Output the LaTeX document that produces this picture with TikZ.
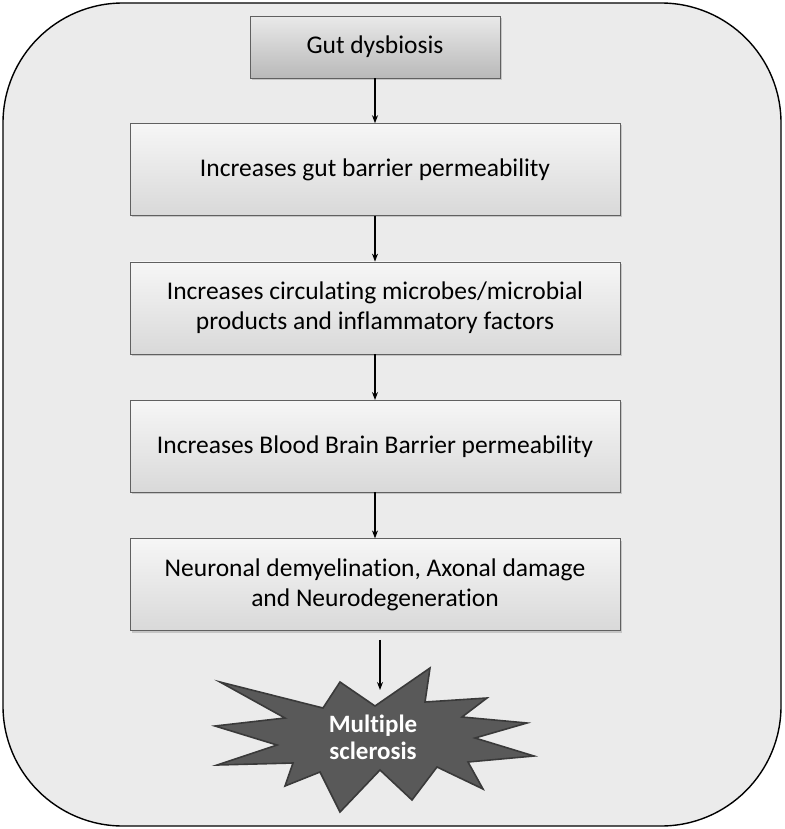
\documentclass[tikz,border=0pt]{standalone}
\usepackage{fontspec}
\setmainfont{Carlito}[Ligatures={NoCommon}]
\usetikzlibrary{arrows.meta, positioning, shadows}

\definecolor{panelgray}{HTML}{EBEBEB}
\definecolor{stargray}{HTML}{595959}
\definecolor{starline}{HTML}{3A3A3A}

\begin{document}
\begin{tikzpicture}[x=1pt, y=-1pt, >={Stealth[length=8pt, width=6pt]},
  stepbox/.style={draw=gray!75!black, top color=gray!7, bottom color=gray!30,
    minimum width=490pt, minimum height=92pt, align=center,
    font=\fontsize{25.5}{30}\selectfont,
    drop shadow={shadow xshift=2pt, shadow yshift=-2pt, opacity=0.35}},
  topbox/.style={stepbox, top color=gray!17, bottom color=gray!55,
    minimum width=250pt, minimum height=62pt},
  flow/.style={->, line width=1.1pt},
  node distance=46pt]
  \useasboundingbox (0,0) rectangle (784,829);

  % background panel
  \draw[line width=1.4pt, fill=panelgray, rounded corners=120pt] (3,3) rectangle (781,826);

  % the chain of boxes
  \node[topbox] (dys) at (375,47) {Gut dysbiosis};
  \node[stepbox, below=45pt of dys] (gut) {Increases gut barrier permeability};
  \node[stepbox, below=of gut] (circ) {Increases circulating microbes/microbial\\products and inflammatory factors};
  \node[stepbox, below=of circ] (bbb) {Increases Blood Brain Barrier permeability};
  \node[stepbox, below=of bbb] (demy) {Neuronal demyelination, Axonal damage\\and Neurodegeneration};

  \draw[flow] (dys) -- (gut);
  \draw[flow] (gut) -- (circ);
  \draw[flow] (circ) -- (bbb);
  \draw[flow] (bbb) -- (demy);

  % burst
  \draw[line width=1.6pt, draw=starline, fill=stargray, line join=miter]
    (375,706) -- (430,668) -- (425,702) -- (487,698) -- (462,717) -- (527,723)
    -- (475,738) -- (534,756) -- (468,762) -- (483,789) -- (437,767) -- (412,800)
    -- (380,770) -- (340,812) -- (320,772) -- (285,786) -- (293,763) -- (217,765)
    -- (277,745) -- (215,726) -- (285,718) -- (220,682) -- (323,708) -- (340,682)
    -- cycle;
  \node[font=\fontsize{25}{27}\selectfont\bfseries, text=white, align=center]
    (ms) at (373,737) {Multiple\\sclerosis};
  \coordinate (mstop) at (380,690);
  \draw[flow] ([xshift=5pt, yshift=-9pt]demy.south) -- (mstop);
\end{tikzpicture}
\end{document}
